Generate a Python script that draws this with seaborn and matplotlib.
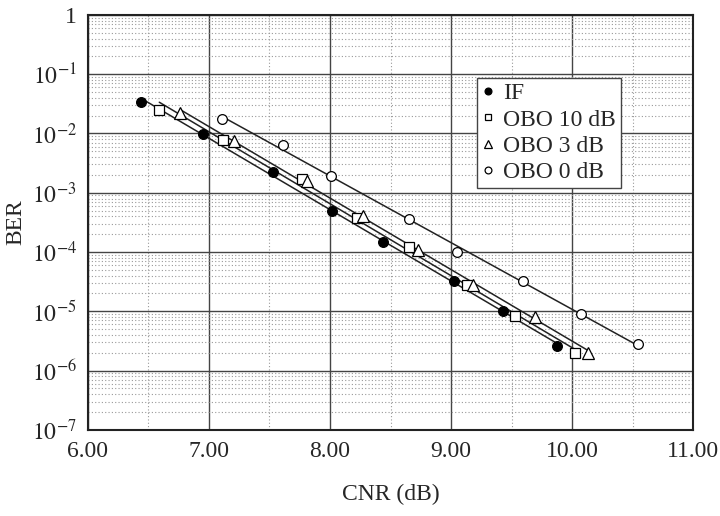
import numpy as np
import pandas as pd
import matplotlib
matplotlib.use('Agg')
import matplotlib.pyplot as plt
import seaborn as sns
from matplotlib.ticker import LogLocator, MultipleLocator, FixedLocator, NullFormatter

sns.set_style('white')
plt.rcParams.update({
    "font.family": ['Liberation Serif', 'DejaVu Serif'],
    "mathtext.fontset": 'stix',
    "font.size": 17,
})

# values
cnr_if = [6.44, 6.95, 7.53, 8.02, 8.44, 9.02, 9.43, 9.87]
ber_if = [3.4e-2, 9.8e-3, 2.2e-3, 5.0e-4, 1.5e-4, 3.3e-5, 1.0e-5, 2.6e-6]

cnr_obo10 = [6.59, 7.12, 7.77, 8.22, 8.65, 9.13, 9.53, 10.02]
ber_obo10 = [2.5e-2, 7.9e-3, 1.7e-3, 3.7e-4, 1.2e-4, 2.8e-5, 8.2e-6, 2.0e-6]

cnr_obo3 = [6.76, 7.21, 7.81, 8.27, 8.73, 9.18, 9.69, 10.13]
ber_obo3 = [2.2e-2, 7.4e-3, 1.6e-3, 4.1e-4, 1.1e-4, 2.8e-5, 7.9e-6, 2.0e-6]

cnr_obo0 = [7.11, 7.61, 8.01, 8.65, 9.05, 9.59, 10.07, 10.54]
ber_obo0 = [1.77e-2, 6.3e-3, 1.9e-3, 3.6e-4, 1.0e-4, 3.3e-5, 9.0e-6, 2.8e-6]

series = [
    ('IF', cnr_if, ber_if, 'o', 'black', 7),
    ('OBO 10 dB', cnr_obo10, ber_obo10, 's', 'white', 7),
    ('OBO 3 dB', cnr_obo3, ber_obo3, '^', 'white', 8),
    ('OBO 0 dB', cnr_obo0, ber_obo0, 'o', 'white', 7),
]

fig, ax = plt.subplots(figsize=(7.2, 5.16), dpi=100)

for name, x, y, mk, fc, ms in series:
    x = np.array(x)
    y = np.array(y)
    # straight trend line in log domain from first to last point
    k, b = np.polyfit(x, np.log10(y), 1)
    xl = np.array([x.min(), x.max()])
    fit = pd.DataFrame({'x': xl, 'y': 10 ** (k * xl + b)})
    sns.lineplot(data=fit, x='x', y='y', ax=ax, color='#222222', lw=1.1, zorder=3)
    df = pd.DataFrame({'x': x, 'y': y})
    ax.plot(df['x'], df['y'], ls='none', marker=mk, ms=ms, mfc=fc, mec='black',
            mew=0.9, label=name, zorder=4)

ax.set_yscale('log')
ax.set_xlim(6, 11)
ax.set_ylim(1e-7, 1)
ax.xaxis.set_major_locator(MultipleLocator(1))
ax.xaxis.set_minor_locator(FixedLocator([6.5, 7.5, 8.5, 9.5, 10.5]))
ax.xaxis.set_major_formatter(matplotlib.ticker.FormatStrFormatter('%.2f'))
ax.yaxis.set_major_locator(FixedLocator([10.0 ** e for e in range(-7, 1)]))
ax.yaxis.set_minor_locator(LogLocator(base=10, subs=np.arange(2, 10), numticks=20))
ax.yaxis.set_minor_formatter(NullFormatter())
ylabels = ['$10^{-%d}$' % e for e in range(7, 0, -1)] + ['1']
ax.set_yticklabels(ylabels)

ax.grid(which='major', color='#444444', lw=1.0, ls='-')
ax.grid(which='minor', color='#999999', lw=0.8, ls=(0, (1, 2)))
ax.tick_params(which='both', length=0, labelsize=17, pad=8)
for s in ax.spines.values():
    s.set_color('#222222')
    s.set_linewidth(1.5)

ax.set_xlabel('CNR (dB)', fontsize=17, labelpad=16)
ax.set_ylabel('BER', fontsize=17, labelpad=4)

leg = ax.legend(loc='upper left', bbox_to_anchor=(0.643, 0.848), fontsize=17,
                frameon=True, fancybox=False, handlelength=0.5, handletextpad=0.4,
                borderpad=0.2, labelspacing=0.2, borderaxespad=0, markerscale=0.7)
leg.get_frame().set_edgecolor('#444444')
leg.get_frame().set_linewidth(1.0)
leg.get_frame().set_alpha(1)

fig.subplots_adjust(left=0.122, right=0.963, top=0.971, bottom=0.167)
fig.savefig('out.png', dpi=100)
